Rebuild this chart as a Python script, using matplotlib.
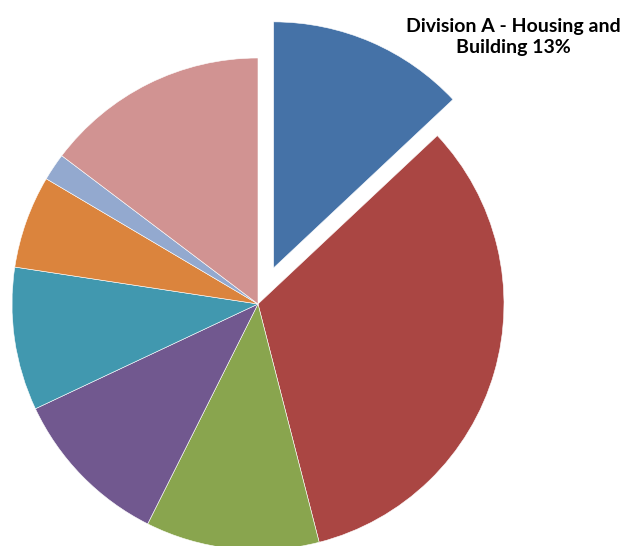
import matplotlib.pyplot as plt

# slice shares (percent), clockwise from 12 o'clock
divisions = ['Division A - Housing and Building', 'Division B', 'Division C', 'Division D',
             'Division E', 'Division F', 'Division G', 'Division H']
shares = [13.0, 33.0, 11.4, 10.6, 9.4, 6.1, 1.8, 14.7]
colors = ['#4572A7', '#AA4643', '#89A54E', '#71588F', '#4198AF', '#DB843D', '#93A9CF', '#D19392']
explode = [0.16, 0, 0, 0, 0, 0, 0, 0]

W, H = 622, 546
cx, cy, r = 258, 304, 246

fig = plt.figure(figsize=(W / 100, H / 100), dpi=100)
ax = fig.add_axes([0, 0, 1, 1])
ax.pie(shares, colors=colors, explode=explode, startangle=90, counterclock=False,
       wedgeprops=dict(edgecolor='white', linewidth=0.4))
ax.set_xlim(-cx / r, (W - cx) / r)
ax.set_ylim(-(H - cy) / r, cy / r)
ax.set_aspect('equal')
ax.axis('off')

ax.text((513 - cx) / r, (cy - 37) / r, 'Division A - Housing and\nBuilding 13%',
        ha='center', va='center', fontsize=14, fontweight='bold',
        family=['Lato', 'DejaVu Sans'], linespacing=1.3)

fig.savefig('out.png', dpi=100)
